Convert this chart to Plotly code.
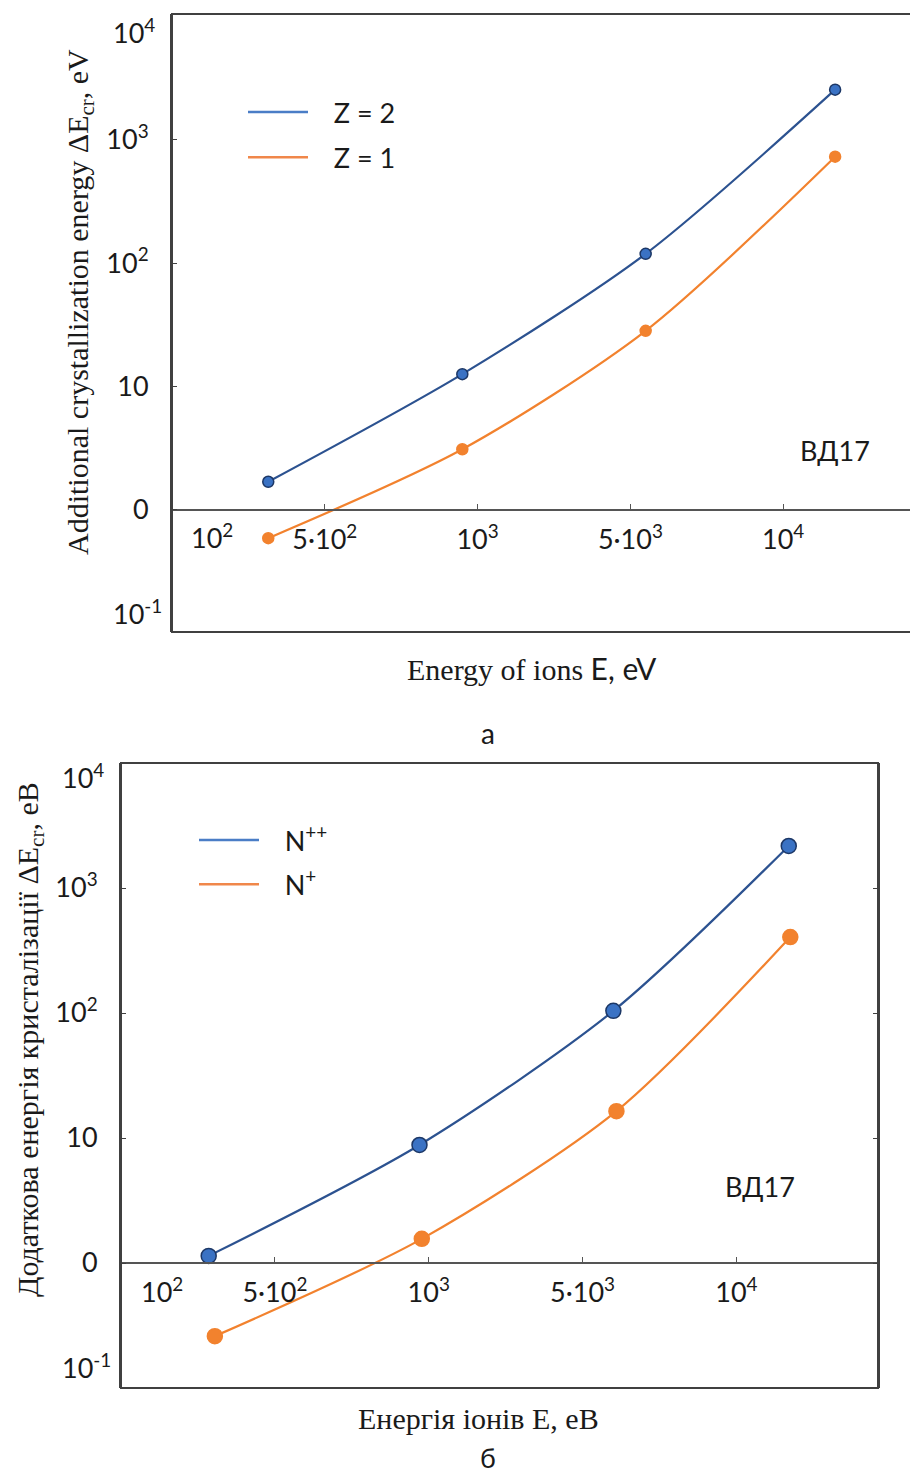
import plotly.graph_objects as go

# ---------------- data ----------------
# x axis is drawn with evenly spaced ticks: 0 -> 10^2, 1 -> 5·10^2, 2 -> 10^3, 3 -> 5·10^3, 4 -> 10^4
x_tick_labels = ["10<sup>2</sup>", "5·10<sup>2</sup>", "10<sup>3</sup>", "5·10<sup>3</sup>", "10<sup>4</sup>"]
x_tick_pos = [0, 1, 2, 3, 4]

# panel a
a_x = [0.63, 1.90, 3.10, 4.34]
a_z2 = [1.69, 12.6, 119, 2550]
a_z1 = [0.59, 3.1, 28.3, 730]
a_names = ["Z = 2", "Z = 1"]

# panel б
b_x_npp = [0.57, 1.94, 3.20, 4.34]
b_npp = [1.14, 8.8, 104, 2170]
b_x_np = [0.61, 1.955, 3.22, 4.35]
b_np = [0.26, 1.56, 16.4, 405]
b_names = ["N<sup>++</sup>", "N<sup>+</sup>"]

y_tickvals = [1, 10, 100, 1000]
y_ticktext = ["0", "10", "10<sup>2</sup>", "10<sup>3</sup>"]

# ---------------- styling ----------------
W, H = 910, 1476
BLUE_LINE = "#2C5290"
BLUE_FILL = "#3A72C4"
BLUE_EDGE = "#1C3766"
ORANGE = "#F2822E"
LEG_BLUE = "#4A7DC6"
LEG_ORANGE = "#F0874A"
AX = "#404040"
TXT = "#1a1a1a"
SANS = "Lato"
SERIF = "Liberation Serif"
NB = "\u00a0\u00a0\u00a0"


def px(x):
    return x / W


def py(y):
    return 1 - y / H


a_xdom = [px(172), 1.0]
a_ydom = [py(632), py(14)]
a_yr = [-0.99, 4.02]
a_xr = [0, 4.83]
b_xdom = [px(121), px(878)]
b_ydom = [py(1388), py(763)]
b_yr = [-1.0, 4.0]
b_xr = [0, 4.92]


def zero_pos(dom, yr):
    return dom[0] + (0 - yr[0]) / (yr[1] - yr[0]) * (dom[1] - dom[0])


fig = go.Figure()


def add_series(x, y, color_line, fill, edge, msize, xa, ya):
    fig.add_trace(go.Scatter(
        x=x, y=y, mode="lines+markers", xaxis=xa, yaxis=ya, showlegend=False,
        line=dict(color=color_line, width=2.2, shape="spline", smoothing=0.8),
        marker=dict(size=msize, color=fill, line=dict(color=edge, width=1.5)),
    ))


add_series(a_x, a_z2, BLUE_LINE, BLUE_FILL, BLUE_EDGE, 11, "x", "y")
add_series(a_x, a_z1, ORANGE, ORANGE, ORANGE, 11, "x", "y")
add_series(b_x_npp, b_npp, BLUE_LINE, BLUE_FILL, BLUE_EDGE, 15, "x2", "y2")
add_series(b_x_np, b_np, ORANGE, ORANGE, ORANGE, 15, "x2", "y2")

# legend-only traces
for nm, col, lg, grp in [(a_names[0], LEG_BLUE, "legend", "a1"), (a_names[1], LEG_ORANGE, "legend", "a2"),
                         (b_names[0], LEG_BLUE, "legend2", "b1"), (b_names[1], LEG_ORANGE, "legend2", "b2")]:
    fig.add_trace(go.Scatter(x=[None], y=[None], mode="lines", name=NB + nm, legend=lg, legendgroup=grp,
                             line=dict(color=col, width=2.5), xaxis="x", yaxis="y"))

tickfont = dict(family=SANS, size=27, color=TXT)


def xaxis(dom, xr, ydom, yr):
    return dict(domain=dom, anchor="free", position=zero_pos(ydom, yr), range=xr,
                tickmode="array", tickvals=x_tick_pos[1:], ticktext=x_tick_labels[1:],
                showline=True, linecolor="#555555", linewidth=2, ticks="inside", ticklen=5,
                tickcolor="#555555", showgrid=False, zeroline=False, tickfont=tickfont,
                ticklabelstandoff=6)


def yaxis(dom, yr, anchor, mirror):
    return dict(domain=dom, anchor=anchor, type="log", range=yr,
                tickmode="array", tickvals=y_tickvals, ticktext=y_ticktext,
                showline=True, mirror=mirror, linecolor=AX, linewidth=2, ticks="inside",
                ticklen=5, tickcolor=AX, showgrid=False, zeroline=False, tickfont=tickfont,
                ticklabelstandoff=16)


shapes = [
    dict(type="rect", xref="x domain", yref="y domain", x0=0, x1=1.01, y0=0, y1=1,
         line=dict(color=AX, width=2)),
    dict(type="rect", xref="x2 domain", yref="y2 domain", x0=0, x1=1, y0=0, y1=1,
         line=dict(color=AX, width=2)),
]

ann = []


def text(x, y, t, size=27, family=SANS, angle=0, xanchor="center"):
    ann.append(dict(x=px(x), y=py(y), xref="paper", yref="paper", text=t, showarrow=False,
                    font=dict(family=family, size=size, color=TXT), textangle=angle,
                    xanchor=xanchor, yanchor="middle"))


# extra tick-style labels
text(111, 31, "10<sup>4</sup>", xanchor="left")
text(111, 612, "10<sup>-1</sup>", xanchor="left")
text(212, 536, "10<sup>2</sup>")
text(60, 776, "10<sup>4</sup>", xanchor="left")
text(60, 1366, "10<sup>-1</sup>", xanchor="left")
text(162, 1290, "10<sup>2</sup>")

# axis titles
text(80, 302, "Additional crystallization energy ΔE<sub>cr</sub>, eV", size=30, family=SERIF, angle=-90)
text(532, 668, "Energy of ions <span style='font-family:Lato'>E, eV</span>", size=30, family=SERIF)
text(30, 1040, "Додаткова енергія кристалізації ΔE<sub>cr</sub>, еВ", size=30, family=SERIF, angle=-90)
text(478, 1418, "Енергія іонів E, еВ", size=30, family=SERIF)

# panel notes
text(835, 450, "ВД17", size=27)
text(760, 1186, "ВД17", size=27)
text(488, 733, "а", size=28)
text(488, 1457, "б", size=27)

legend_common = dict(xanchor="left", yanchor="top", bgcolor="rgba(0,0,0,0)",
                     font=dict(family=SANS, size=27, color=TXT), itemwidth=60)

fig.update_layout(
    width=W, height=H, margin=dict(l=0, r=0, t=0, b=0),
    paper_bgcolor="white", plot_bgcolor="white",
    xaxis=xaxis(a_xdom, a_xr, a_ydom, a_yr),
    yaxis=yaxis(a_ydom, a_yr, "x", False),
    xaxis2=xaxis(b_xdom, b_xr, b_ydom, b_yr),
    yaxis2=yaxis(b_ydom, b_yr, "x2", "ticks"),
    shapes=shapes, annotations=ann,
    legend=dict(x=px(243), y=py(88), tracegroupgap=7, **legend_common),
    legend2=dict(x=px(194), y=py(816), tracegroupgap=6, **legend_common),
)

fig.write_html("out.html", post_script="document.body.style.margin='0';",
               config={"displayModeBar": False})
